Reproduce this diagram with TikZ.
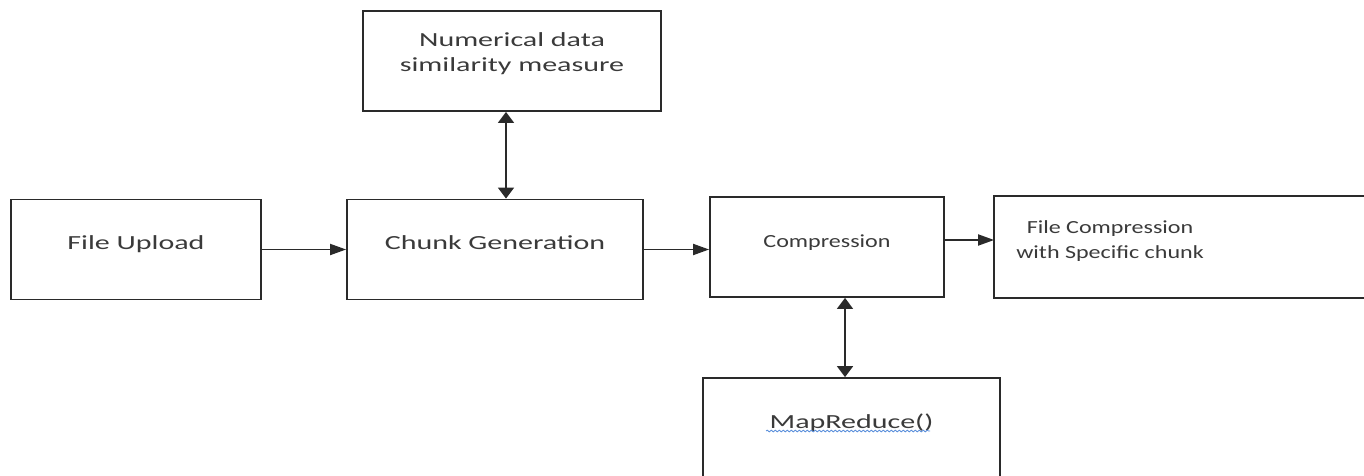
\documentclass[tikz,border=0pt]{standalone}
\usepackage{fontspec}
\setmainfont{Carlito}[FakeStretch=1.5]
\newfontfamily\cmpfont{Carlito}[FakeStretch=1.3]
\usetikzlibrary{arrows.meta,decorations.pathmorphing}

\definecolor{boxline}{HTML}{2A2A2A}
\definecolor{boxtext}{HTML}{3A3A3A}
\definecolor{spellblue}{HTML}{5B8FDB}

\tikzset{
blk/.style={draw=boxline,line width=1.8pt,inner sep=0pt,minimum height=100pt,
  align=center,text=boxtext,font=\fontsize{20}{25}\selectfont},
narrowtxt/.style={font=\cmpfont\fontsize{18.5}{25}\selectfont},
oneline/.style={text height=12pt,text depth=12pt},
twoline/.style={text height=40pt,text depth=18pt},
harr/.style={draw=boxline,line width=1.8pt,-{Triangle[length=16pt,width=11pt]}},
varr/.style={draw=boxline,line width=1.8pt,
  {Triangle[length=11pt,width=16pt]}-{Triangle[length=11pt,width=16pt]}}
}

\begin{document}
\begin{tikzpicture}[x=1pt,y=-1pt]
\clip (0,0) rectangle (1364,476);

%upload
\node[blk,oneline,minimum width=250pt] (upload) at (136,249.5) {File Upload};
%chunks
\node[blk,oneline,minimum width=296pt] (chunk) at (495,249.5) {Chunk Generation};
%similarity
\node[blk,twoline,minimum width=298pt] (simil) at (512,61) {Numerical data\\similarity measure};
%compression
\node[blk,narrowtxt,oneline,minimum width=234pt] (compr) at (827,247) {Compression};
%file compression, box runs off the right edge
\node[blk,narrowtxt,twoline,draw=none,minimum width=230pt] (filecomp) at (1110,247)
{File Compression\\with Specific chunk};
\draw[boxline,line width=1.8pt]
(filecomp.north west) rectangle ([xshift=300pt]filecomp.south east);
%mapreduce, box runs off the bottom edge
\node[blk,oneline,minimum width=297pt] (mapred) at (851.5,428) {MapReduce()};
\draw[spellblue,line width=0.8pt,decorate,
decoration={snake,amplitude=0.9pt,segment length=4pt}]
(766,431)--(930,431);

% arrows
\draw[harr] (upload.east)--(upload.east -| chunk.west);
\draw[harr] (chunk.east)--(chunk.east -| compr.west);
\draw[harr] ([yshift=7pt]compr.east)--([yshift=7pt]compr.east -| filecomp.west);
\draw[varr] ([xshift=-6pt]simil.south)--([xshift=-6pt]simil.south |- chunk.north);
\draw[varr] ([xshift=18pt]compr.south)--([xshift=18pt]compr.south |- mapred.north);

\end{tikzpicture}
\end{document}
